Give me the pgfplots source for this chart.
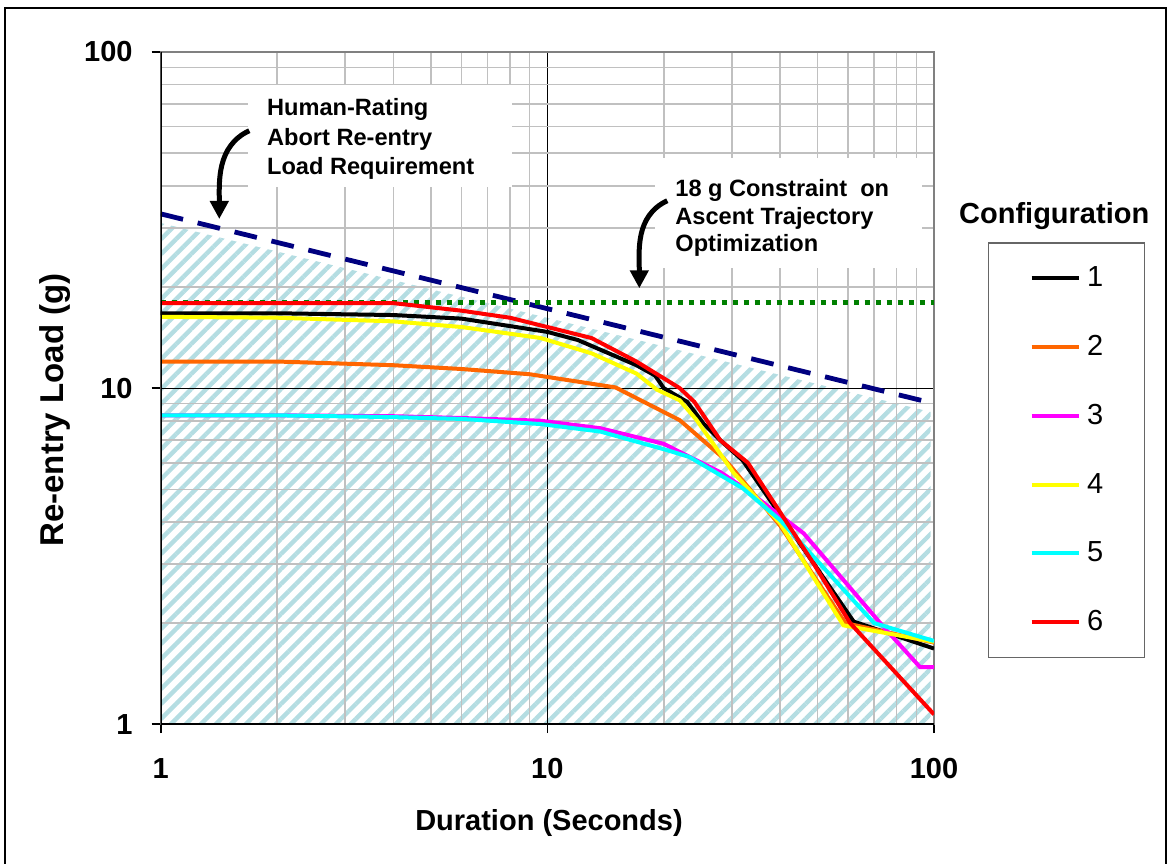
\documentclass[border=0pt]{standalone}
\usepackage{pgfplots}
\pgfplotsset{compat=1.18}
\usepackage{fontspec}
\setmainfont{Liberation Sans}
\usetikzlibrary{patterns.meta, arrows.meta}
\definecolor{hatch}{RGB}{180,221,226}
\definecolor{gridgray}{RGB}{192,192,192}
\definecolor{navyc}{RGB}{0,0,128}
\definecolor{greenc}{RGB}{0,128,0}
\definecolor{orangec}{RGB}{255,102,0}
\definecolor{magentac}{RGB}{255,0,255}
\definecolor{cyanc}{RGB}{0,255,255}
\definecolor{yellowc}{RGB}{255,255,0}
\definecolor{redc}{RGB}{255,0,0}
\begin{document}
\begin{tikzpicture}[x=1pt,y=1pt]
\begin{axis}[
  set layers,
  at={(80.35pt,69.85pt)}, anchor=south west,
  scale only axis, width=386.65pt, height=336.15pt,
  xmode=log, ymode=log, xmin=1, xmax=100, ymin=1, ymax=100,
  xtick={1,10,100}, xticklabels={1,10,100},
  ytick={1,10,100}, yticklabels={1,10,100},
  minor xtick={2,3,4,5,6,7,8,9,20,30,40,50,60,70,80,90},
  minor ytick={2,3,4,5,6,7,8,9,20,30,40,50,60,70,80,90},
  grid=both,
  major grid style={black, line width=0.6pt},
  minor grid style={gridgray, line width=0.8pt},
  minor tick length=0pt,
  tick pos=left,
  tick align=outside, major tick length=4.5pt,
  major tick style={black, line width=0.8pt},
  axis line style={gray, line width=1pt},
  ticklabel style={font=\bfseries\fontsize{14.5}{17}\selectfont},
  xticklabel style={inner sep=0pt, anchor=north, yshift=-12.35pt},
  yticklabel style={inner sep=0pt, anchor=east, xshift=-9.35pt},
  legend style={
    at={(1.06944,0.71694)}, anchor=north west,
    draw=black!60, line width=0.8pt,
    inner xsep=20.5pt, inner ysep=0.5pt,
    row sep=0pt,
    font=\fontsize{14.5}{17}\selectfont,
    nodes={inner sep=0pt, minimum height=34.35pt},
    /tikz/every odd column/.append style={column sep=3.35pt},
  },
  legend cell align=left,
  legend image code/.code={\draw[#1, line width=2pt] (0pt,0pt) -- (23.5pt,0pt);},
]
% hatched region
\addplot[draw=none, pattern={Lines[angle=45, distance=5.3pt, line width=2.2pt]}, pattern color=hatch, on layer=axis background, forget plot]
  coordinates {(1,1) (1,31) (98,8.5) (98,1)} -- cycle;
% requirement line
\addplot[navyc, line width=2.4pt, dash pattern=on 11.5pt off 7.5pt, forget plot]
  coordinates {(1,33) (100,9)};
% 18 g constraint
\addplot[greenc, line width=2.5pt, dash pattern=on 2.5pt off 3pt, forget plot]
  coordinates {(1,18) (100,18)};
% Configuration 1
\addplot[black, line width=2pt] coordinates {
 (1,16.7) (2,16.7) (4,16.5) (6,16.1) (8,15.3) (10,14.7) (12,13.9) (17,11.7)
 (19,10.9) (20,10.0) (23,9.1) (25.3,7.86) (28,7.0) (32,6.1) (62,2.02) (100,1.68)};
\addlegendentry{1}
% Configuration 2
\addplot[orangec, line width=2pt] coordinates {
 (1,12.0) (2,12.0) (4,11.7) (6,11.4) (9,11.0) (15,10.05) (22,8.03) (28.5,6.2)
 (30,5.8) (40,3.9) (59,2.0) (100,1.75)};
\addlegendentry{2}
% Configuration 3
\addplot[magentac, line width=2pt] coordinates {
 (1,8.3) (2,8.3) (4,8.25) (6,8.15) (9.6,8.0) (13.7,7.6) (20,6.83) (24.3,6.1)
 (28.2,5.6) (32.6,5.0) (46,3.7) (74,1.95) (92,1.48) (100,1.48)};
\addlegendentry{3}
% Configuration 4
\addplot[yellowc, line width=2pt] coordinates {
 (1,16.3) (2,16.2) (4,15.8) (6,15.2) (9.6,14.1) (13,12.7) (17,11.05) (19.2,9.9)
 (22,9.2) (24.3,8.05) (30.3,5.6) (40,3.96) (58.3,1.97) (100,1.76)};
\addlegendentry{4}
% Configuration 5
\addplot[cyanc, line width=2pt] coordinates {
 (1,8.3) (2,8.3) (4,8.2) (6,8.1) (9.6,7.82) (13.7,7.43) (20.4,6.54) (23.3,6.24)
 (32,5.04) (40,4.05) (70,2.0) (100,1.77)};
\addlegendentry{5}
% Configuration 6
\addplot[redc, line width=2pt] coordinates {
 (1,17.9) (2,17.9) (4,17.9) (6,17.0) (8,16.2) (10,15.2) (13,14.1) (17,12.0)
 (22,10.0) (24,9.1) (28,7.0) (33,6.0) (48.7,3.02) (60.7,2.0) (100,1.07)};
\addlegendentry{6}
\draw[black, line width=1.2pt] (rel axis cs:0,1) -- (rel axis cs:0,0) -- (rel axis cs:1,0);
\end{axis}
% outer frame
\draw[line width=1pt] (2.5,0) -- (2.5,428) -- (583,428) -- (583,0);
% annotation boxes
\fill[white] (124,389.5) rectangle (256,338.5);
\fill[white] (327.5,353) rectangle (461,298);
\begin{scope}[font=\bfseries\fontsize{11.8}{14}\selectfont]
\node[anchor=base west, inner sep=0pt] at (133.35,374) {Human-Rating};
\node[anchor=base west, inner sep=0pt] at (133.35,359) {Abort Re-entry};
\node[anchor=base west, inner sep=0pt] at (133.35,344.5) {Load Requirement};
\node[anchor=base west, inner sep=0pt] at (337.5,333.65) {18 g Constraint\ \ on};
\node[anchor=base west, inner sep=0pt] at (337.5,319.85) {Ascent Trajectory};
\node[anchor=base west, inner sep=0pt] at (337.5,306.15) {Optimization};
\end{scope}
\draw[line width=2.5pt, -{Triangle[length=9pt,width=9pt]}] (124.65,366.65) to[out=205, in=90] (109.65,322.5);
\draw[line width=2.5pt, -{Triangle[length=9pt,width=9pt]}] (333.65,331.65) to[out=205, in=90] (319.65,287.85);
% labels
\node[anchor=base, inner sep=0pt, font=\bfseries\fontsize{14.5}{17}\selectfont] at (274.5,16.5) {Duration (Seconds)};
\node[anchor=base, inner sep=0pt, rotate=90, font=\bfseries\fontsize{16.5}{19}\selectfont] at (31.5,227) {Re-entry Load (g)};
\node[anchor=base, inner sep=0pt, font=\bfseries\fontsize{14.5}{17}\selectfont] at (527.1,320.35) {Configuration};
\path (0,0) rectangle (586.5,432);
\end{tikzpicture}
\end{document}
